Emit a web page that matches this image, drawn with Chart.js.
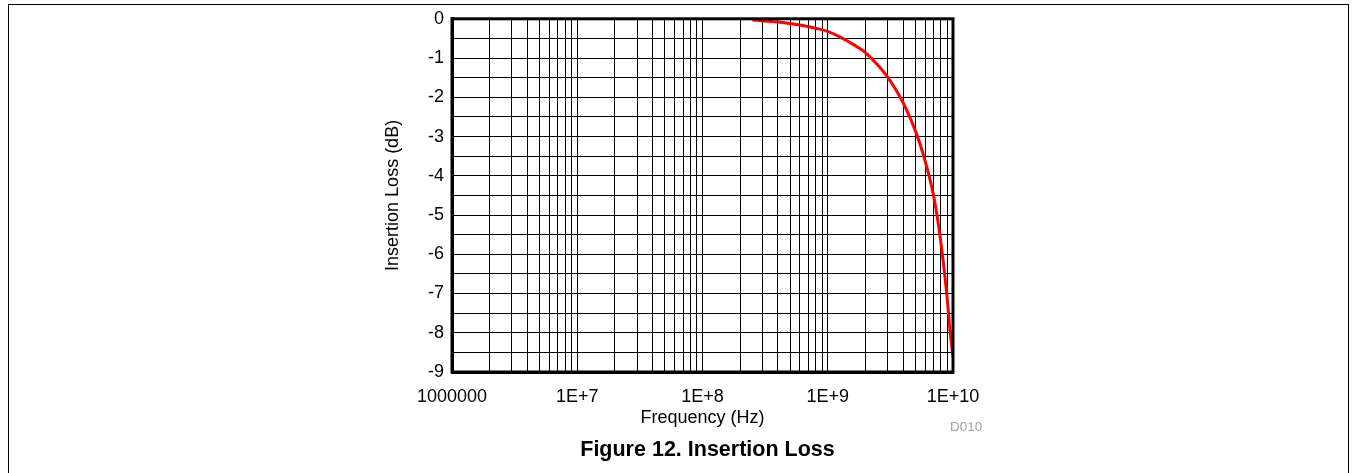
<!DOCTYPE html>
<html>
<head>
<meta charset="utf-8">
<script src="https://cdn.jsdelivr.net/npm/chart.js@4.4.1/dist/chart.umd.min.js"></script>
<style>
html,body{margin:0;padding:0;background:#fff;}
#wrap{position:relative;width:1353px;height:473px;overflow:hidden;font-family:"Liberation Sans",Arial,sans-serif;}
#frame{position:absolute;left:8px;top:4px;width:1341px;height:490px;box-sizing:border-box;border:1px solid #000;border-bottom:none;}
#chart{position:absolute;left:0;top:0;}
#caption{position:absolute;left:0;top:439px;width:1415px;text-align:center;font-weight:bold;font-size:21.5px;line-height:1;color:#000;}
#code{position:absolute;left:950px;top:419.5px;font-size:13.5px;line-height:1;color:#a0a0a0;}
</style>
</head>
<body>
<div id="wrap">
  <div id="frame"></div>
  <canvas id="chart" width="1353" height="473"></canvas>
  <div id="code">D010</div>
  <div id="caption">Figure 12. Insertion Loss</div>
</div>
<script>
// ---- data ----
const freqHz = [2.5e8, 3e8, 4e8, 5e8, 6e8, 7e8, 8e8, 1e9, 1.25e9, 1.5e9, 1.75e9, 2e9, 2.5e9, 3e9, 3.5e9, 4e9, 4.5e9, 5e9, 5.5e9, 6e9, 6.5e9, 7e9, 7.5e9, 8e9, 8.5e9, 9e9, 9.5e9, 1e10];
const lossDb = [-0.03, -0.05, -0.08, -0.12, -0.16, -0.2, -0.24, -0.32, -0.46, -0.6, -0.73, -0.86, -1.17, -1.48, -1.81, -2.14, -2.49, -2.85, -3.23, -3.63, -4.05, -4.51, -5.06, -5.69, -6.39, -7.15, -8.0, -8.6];

const xDecades = [1e6, 1e7, 1e8, 1e9, 1e10];
const xDecadeLabels = ['1000000', '1E+7', '1E+8', '1E+9', '1E+10'];
const xMinorMultipliers = [2, 3, 4, 5, 6, 7, 8, 9];

const yTickValues = [0, -1, -2, -3, -4, -5, -6, -7, -8, -9];
const yTickLabels = ['0', '-1', '-2', '-3', '-4', '-5', '-6', '-7', '-8', '-9'];
const yGridStep = 0.5;

const xTitle = 'Frequency (Hz)';
const yTitle = 'Insertion Loss (dB)';

// ---- build ticks ----
const xTickValues = [];
xDecades.forEach((d, i) => {
  xTickValues.push(d);
  if (i < xDecades.length - 1) xMinorMultipliers.forEach(m => xTickValues.push(d * m));
});

function xLabel(v) {
  for (let i = 0; i < xDecades.length; i++) {
    if (Math.abs(v - xDecades[i]) / xDecades[i] < 1e-9) return xDecadeLabels[i];
  }
  return '';
}
function yLabel(v) {
  for (let i = 0; i < yTickValues.length; i++) {
    if (Math.abs(v - yTickValues[i]) < 1e-9) return yTickLabels[i];
  }
  return '';
}

const fam = '"Liberation Sans", Arial, sans-serif';

const frameBox = {
  id: 'frameBox',
  afterDatasetsDraw(chart) {
    const a = chart.chartArea, c = chart.ctx;
    c.save();
    c.strokeStyle = '#000';
    c.lineWidth = 3;
    c.strokeRect(a.left, a.top, a.right - a.left, a.bottom - a.top);
    c.restore();
  }
};

new Chart(document.getElementById('chart').getContext('2d'), {
  type: 'line',
  data: {
    datasets: [{
      data: freqHz.map((f, i) => ({x: f, y: lossDb[i]})),
      borderColor: '#ff0000',
      borderWidth: 3,
      pointRadius: 0,
      tension: 0.4,
      fill: false
    }]
  },
  options: {
    responsive: false,
    animation: false,
    devicePixelRatio: 1,
    layout: {padding: {left: 372, top: 18, right: 400, bottom: 41}},
    plugins: {legend: {display: false}, tooltip: {enabled: false}},
    scales: {
      x: {
        type: 'logarithmic',
        position: 'bottom',
        min: xDecades[0],
        max: xDecades[xDecades.length - 1],
        afterBuildTicks: s => { s.ticks = xTickValues.map(v => ({value: v})); },
        afterFit: s => { s.height = 60; },
        grid: {color: '#000', lineWidth: 1, drawTicks: false},
        border: {display: true, color: '#000', width: 3},
        ticks: {autoSkip: false, maxRotation: 0, minRotation: 0, padding: 14, color: '#000',
                font: {family: fam, size: 18}, callback: v => xLabel(v)},
        title: {display: true, text: xTitle, color: '#000', font: {family: fam, size: 18},
                padding: {top: 0, bottom: 3}}
      },
      y: {
        type: 'linear',
        position: 'left',
        min: yTickValues[yTickValues.length - 1],
        max: yTickValues[0],
        ticks: {stepSize: yGridStep, autoSkip: false, padding: 8, color: '#000',
                font: {family: fam, size: 18}, callback: v => yLabel(v)},
        afterFit: s => { s.width = 80; },
        grid: {color: '#000', lineWidth: 1, drawTicks: false},
        border: {display: true, color: '#000', width: 3},
        title: {display: true, text: yTitle, color: '#000', font: {family: fam, size: 18},
                padding: {top: 10, bottom: 0}}
      }
    }
  },
  plugins: [frameBox]
});
</script>
</body>
</html>
